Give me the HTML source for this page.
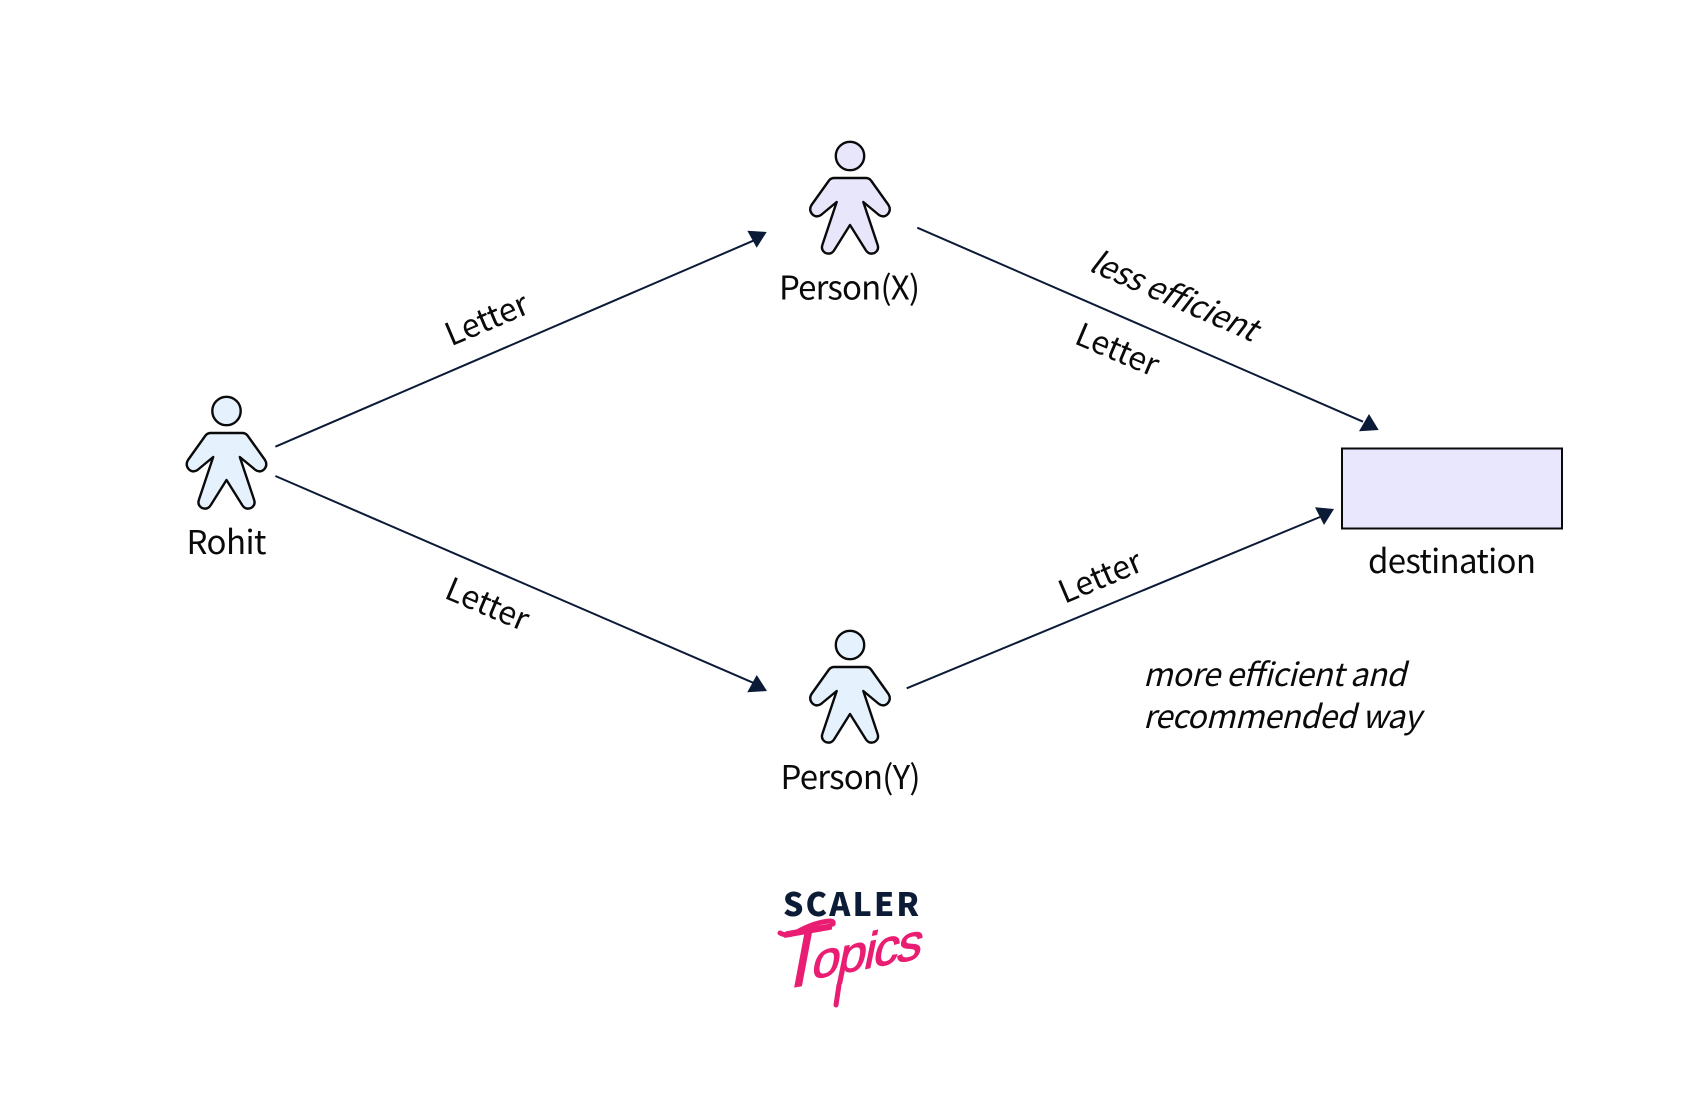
<!DOCTYPE html>
<html lang="en">
<head>
<meta charset="utf-8">
<title>Letter routing diagram</title>
<style>
html,body{margin:0;padding:0;background:#fff;width:1700px;height:1111px;overflow:hidden}
svg{display:block}
text{font-family:"Noto Sans CJK JP","Liberation Sans",sans-serif;fill:#0a0a0a;font-size:33px}
.i{font-style:italic}
.l{font-size:32px}
.logo{font-family:"Liberation Sans",sans-serif;fill:#e91e73;stroke:#e91e73}
</style>
</head>
<body>
<svg width="1700" height="1111" viewBox="0 0 1700 1111" xmlns="http://www.w3.org/2000/svg">
<defs>
<path id="body" d="M-15.7 0 L15.7 0 Q19 0 21 2.5 L38.5 27 Q41.5 32 37.5 36.5 Q33.5 40 29 37 L13.3 24 L27.5 66.5 Q29.5 72 24.5 75 Q19 77 16 72.5 L0 47 L-16 72.5 Q-19 77 -24.5 75 Q-29.5 72 -27.5 66.5 L-13.3 24 L-29 37 Q-33.5 40 -37.5 36.5 Q-41.5 32 -38.5 27 L-21 2.5 Q-19 0 -15.7 0 Z" stroke="#0a0a0a" stroke-width="2.4" stroke-linejoin="round"/>
</defs>

<!-- Rohit -->
<circle cx="226.5" cy="411" r="14.2" fill="#e5f2fd" stroke="#0a0a0a" stroke-width="2.4"/>
<use href="#body" x="226.5" y="433" fill="#e5f2fd"/>
<text x="226.5" y="554" text-anchor="middle" textLength="80">Rohit</text>

<!-- Person X -->
<circle cx="850" cy="156" r="14.2" fill="#e7e6fb" stroke="#0a0a0a" stroke-width="2.4"/>
<use href="#body" x="850" y="178" fill="#e7e6fb"/>
<text x="849.5" y="299.5" text-anchor="middle" textLength="141">Person(X)</text>

<!-- Person Y -->
<circle cx="850" cy="645" r="14.2" fill="#e5f2fd" stroke="#0a0a0a" stroke-width="2.4"/>
<use href="#body" x="850" y="667" fill="#e5f2fd"/>
<text x="850.5" y="789" text-anchor="middle" textLength="140">Person(Y)</text>

<!-- Destination -->
<rect x="1342" y="448.5" width="220" height="80" fill="#e8e7fd" stroke="#0a0a0a" stroke-width="2"/>
<text x="1452" y="573" text-anchor="middle" textLength="168">destination</text>

<!-- Connectors -->
<g stroke="#0b1a36" stroke-width="2" fill="none">
<line x1="275.4" y1="446.7" x2="753.3" y2="240.7"/>
<line x1="275.4" y1="476" x2="753" y2="682.7"/>
<line x1="917.3" y1="227.7" x2="1363" y2="421.7"/>
<line x1="906.7" y1="688.3" x2="1320" y2="517"/>
</g>
<g fill="#0b1a36">
<polygon points="747.3,230.7 766.7,232 756.7,247.7"/>
<polygon points="756.7,675 767,691 747.3,692.3"/>
<polygon points="1359,431.3 1369,414 1378.7,430"/>
<polygon points="1315,507.3 1334,509 1324,525"/>
</g>

<!-- Connector labels -->
<text class="l" transform="translate(451 346.5) rotate(-23)" textLength="87">Letter</text>
<text class="l" transform="translate(443 597.5) rotate(23)" textLength="87">Letter</text>
<text class="l" transform="translate(1073 343) rotate(23)" textLength="87">Letter</text>
<text class="l" transform="translate(1064.5 604) rotate(-23)" textLength="87">Letter</text>
<text class="l i" transform="translate(1087.5 270) rotate(23.6)" textLength="179">less efficient</text>
<text class="l i" x="1143" y="686" textLength="263">more efficient and</text>
<text class="l i" x="1143" y="728" textLength="278">recommended way</text>

<!-- Logo -->
<text x="851" y="916" text-anchor="middle" textLength="136" style="font-size:32px;font-weight:900;fill:#0d1c36">SCALER</text>
<path d="M780 933 Q787 937 797 932 Q815 922 830 921 Q834 921 833 924" fill="none" stroke="#e91e73" stroke-width="5" stroke-linecap="round"/>
<text class="logo" transform="translate(798 987) skewY(-10) skewX(-11)" x="-25.7" style="font-size:84px;stroke-width:0">T</text>
<text class="logo" transform="translate(810 979.5) skewY(-11) skewX(-12)" textLength="110" style="font-size:50px;stroke-width:1">opics</text>
<path d="M839 985 L836 1005" fill="none" stroke="#e91e73" stroke-width="5" stroke-linecap="round"/>
</svg>
</body>
</html>
